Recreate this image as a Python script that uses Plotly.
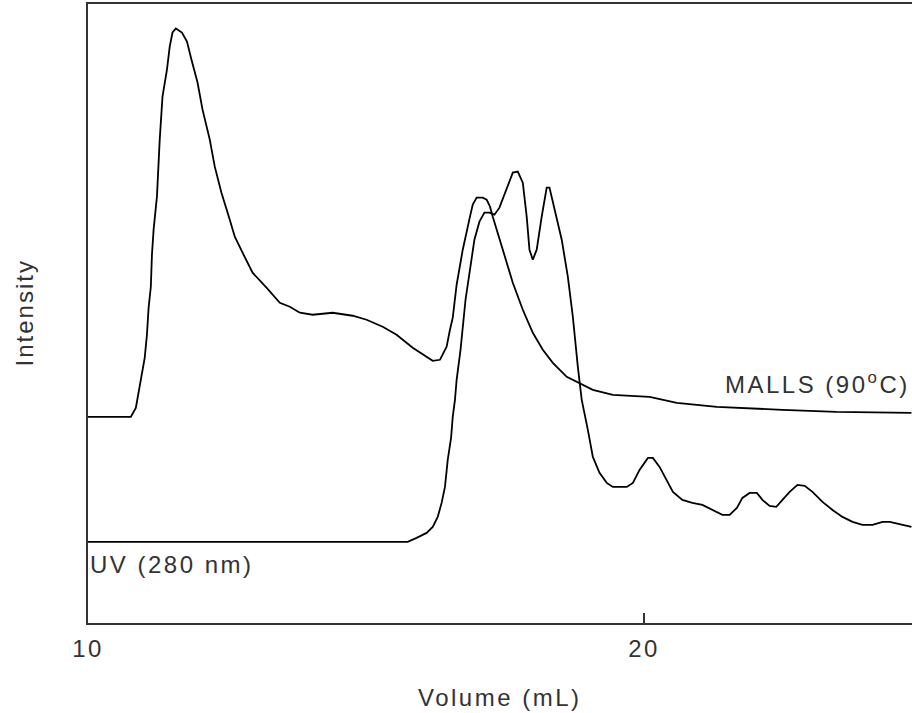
import plotly.graph_objects as go

# MALLS (90 C) trace: elution volume (mL) and intensity (arbitrary units)
malls_volume = [10.00, 10.77, 10.86, 10.89, 10.95, 11.02, 11.06, 11.09, 11.13, 11.15,
                11.18, 11.24, 11.29, 11.34, 11.42, 11.47, 11.52, 11.58, 11.69, 11.78,
                11.86, 11.97, 12.06, 12.19, 12.28, 12.40, 12.55, 12.64, 12.78, 12.96,
                13.21, 13.45, 13.63, 13.81, 14.04, 14.40, 14.76, 15.01, 15.30, 15.55,
                15.84, 16.09, 16.20, 16.33, 16.45, 16.51, 16.56, 16.63, 16.74, 16.87,
                16.92, 16.99, 17.10, 17.17, 17.23, 17.28, 17.41, 17.53, 17.64, 17.82,
                18.00, 18.18, 18.36, 18.61, 18.84, 19.08, 19.44, 20.10, 20.59, 21.31,
                22.49, 23.46, 24.81]
malls_intensity = [206, 206, 215, 225, 246, 265, 288, 315, 336, 368,
                   393, 426, 483, 526, 553, 576, 590, 594, 590, 581,
                   563, 540, 513, 483, 456, 430, 403, 386, 370, 350,
                   335, 320, 316, 310, 308, 310, 307, 303, 296, 288,
                   275, 266, 262, 263, 276, 293, 305, 338, 373, 406,
                   418, 425, 425, 423, 416, 406, 383, 360, 340, 313,
                   290, 273, 260, 246, 240, 233, 228, 226, 220, 216,
                   213, 211, 210]

# UV (280 nm) trace
uv_volume = [10.00, 15.75, 15.91, 16.09, 16.20, 16.29, 16.36, 16.42, 16.47, 16.53,
             16.56, 16.60, 16.63, 16.70, 16.79, 16.87, 16.95, 17.04, 17.13, 17.22,
             17.31, 17.40, 17.53, 17.64, 17.73, 17.82, 17.89, 17.94, 18.00, 18.07,
             18.16, 18.25, 18.30, 18.39, 18.52, 18.63, 18.72, 18.81, 18.88, 18.99,
             19.08, 19.20, 19.33, 19.44, 19.69, 19.80, 19.92, 20.07, 20.16, 20.28,
             20.41, 20.52, 20.69, 20.87, 21.05, 21.23, 21.41, 21.54, 21.67, 21.77,
             21.90, 22.03, 22.13, 22.26, 22.38, 22.49, 22.62, 22.76, 22.89, 23.03,
             23.21, 23.39, 23.57, 23.75, 23.93, 24.11, 24.29, 24.42, 24.60, 24.81]
uv_intensity = [81, 81, 85, 90, 96, 106, 120, 136, 163, 185,
                206, 223, 243, 273, 323, 353, 383, 401, 410, 410,
                408, 415, 433, 450, 451, 440, 406, 373, 363, 373,
                406, 435, 435, 413, 383, 346, 306, 256, 223, 193,
                166, 150, 140, 136, 136, 140, 153, 165, 165, 156,
                143, 131, 123, 120, 118, 113, 108, 108, 115, 125,
                130, 130, 123, 117, 116, 123, 131, 138, 137, 131,
                121, 113, 106, 101, 98, 98, 101, 101, 99, 96]

x_ticks = [10, 20]
x_tick_labels = ["10", "20"]

TXT = "#333333"
FONT = "Liberation Sans, Arial, sans-serif"
FS = 24


def spaced(s, px=2.5):
    return f'<span style="letter-spacing:{px}px">{s}</span>'


fig = go.Figure()
fig.add_trace(go.Scatter(x=malls_volume, y=malls_intensity, mode="lines",
                         line=dict(color="black", width=1.8), name="MALLS (90°C)",
                         showlegend=False))
fig.add_trace(go.Scatter(x=uv_volume, y=uv_intensity, mode="lines",
                         line=dict(color="black", width=1.8), name="UV (280 nm)",
                         showlegend=False))

fig.update_layout(
    width=912, height=713,
    margin=dict(l=88, r=0, t=4, b=90),
    paper_bgcolor="white", plot_bgcolor="white",
    font=dict(family=FONT, size=FS, color=TXT),
    xaxis=dict(range=[10, 24.82], showgrid=False, zeroline=False,
               showline=True, linecolor="#333333", linewidth=2, mirror=True,
               ticks="inside", ticklen=10, tickwidth=2, tickcolor="#333333",
               tickvals=x_ticks, ticktext=[spaced(t) for t in x_tick_labels],
               ticklabelstandoff=3,
               tickfont=dict(family=FONT, size=FS, color=TXT)),
    yaxis=dict(range=[0, 618.5], showgrid=False, zeroline=False,
               showline=True, linecolor="#333333", linewidth=2,
               showticklabels=False, ticks=""),
    annotations=[
        dict(text=spaced("Volume (mL)", 2.5), xref="paper", yref="paper",
             x=0.5, y=-0.1196, xanchor="center", yanchor="middle",
             showarrow=False, font=dict(family=FONT, size=FS, color=TXT)),
        dict(text=spaced("Intensity", 2), xref="paper", yref="paper",
             x=-64 / 824, y=0.5, xanchor="center", yanchor="middle", textangle=-90,
             showarrow=False, font=dict(family=FONT, size=FS, color=TXT)),
        dict(text=spaced("MALLS (90<sup>o</sup>C)", 2.5), xref="paper", yref="y",
             x=1.0, y=240, xanchor="right", yanchor="middle",
             showarrow=False, font=dict(family=FONT, size=FS, color=TXT)),
        dict(text=spaced("UV (280 nm)", 2.5), xref="x", yref="y",
             x=10.0, y=58, xanchor="left", yanchor="middle",
             showarrow=False, font=dict(family=FONT, size=FS, color=TXT)),
    ],
)

fig.write_html("out.html", config={"displayModeBar": False},
               post_script="document.body.style.margin='0';document.body.style.overflow='hidden';")
